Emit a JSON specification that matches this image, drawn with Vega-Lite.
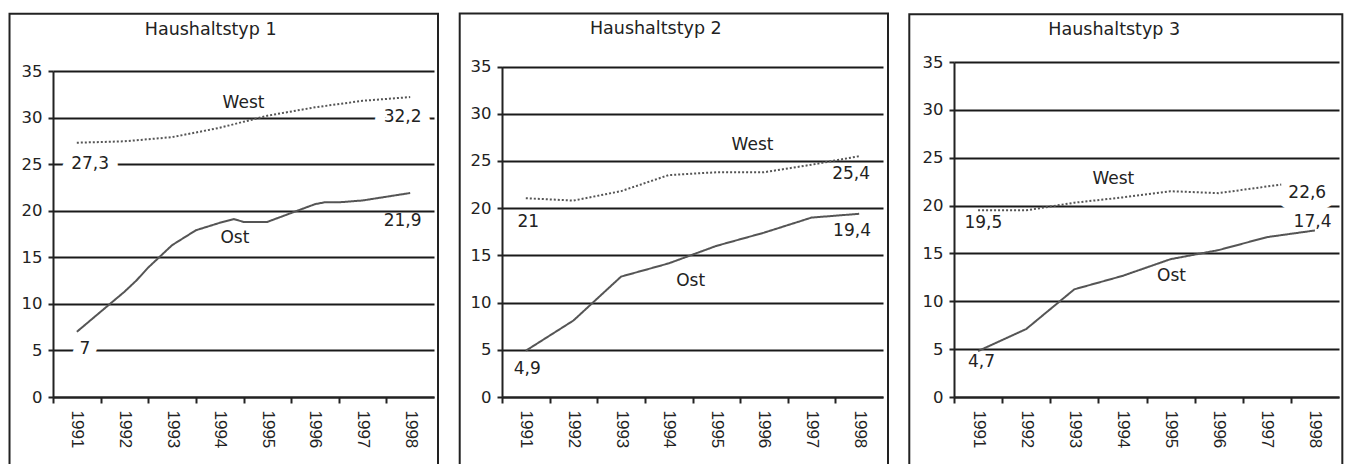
{
  "$schema": "https://vega.github.io/schema/vega-lite/v6.json",
  "padding": {"left": 8, "top": 12, "right": 0, "bottom": 0},
  "background": "white",
  "spacing": 18,
  "bounds": "full",
  "config": {
    "view": {"stroke": null},
    "font": "DejaVu Sans",
    "axis": {
      "domainColor": "#222", "domainWidth": 2,
      "tickColor": "#222", "tickWidth": 2,
      "labelFont": "DejaVu Sans", "labelFontSize": 16.5, "labelColor": "#222",
      "title": null, "gridColor": "#1a1a1a", "gridWidth": 2,
      "labelFlush": false, "labelOverlap": false
    },
    "axisX": {"labelFont": "Liberation Sans", "labelFontSize": 17},
    "text": {"font": "DejaVu Sans"}
  },
  "datasets": {
    "lines": [
      {"panel": 1, "series": "Ost", "year": 1991, "value": 7.0},
      {"panel": 1, "series": "Ost", "year": 1992, "value": 11.3},
      {"panel": 1, "series": "Ost", "year": 1992.25, "value": 12.5},
      {"panel": 1, "series": "Ost", "year": 1992.5, "value": 13.9},
      {"panel": 1, "series": "Ost", "year": 1993, "value": 16.3},
      {"panel": 1, "series": "Ost", "year": 1993.5, "value": 17.9},
      {"panel": 1, "series": "Ost", "year": 1994, "value": 18.7},
      {"panel": 1, "series": "Ost", "year": 1994.3, "value": 19.1},
      {"panel": 1, "series": "Ost", "year": 1994.5, "value": 18.8},
      {"panel": 1, "series": "Ost", "year": 1995, "value": 18.8},
      {"panel": 1, "series": "Ost", "year": 1996, "value": 20.7},
      {"panel": 1, "series": "Ost", "year": 1996.2, "value": 20.9},
      {"panel": 1, "series": "Ost", "year": 1996.5, "value": 20.9},
      {"panel": 1, "series": "Ost", "year": 1997, "value": 21.1},
      {"panel": 1, "series": "Ost", "year": 1998, "value": 21.9},
      {"panel": 1, "series": "West", "year": 1991, "value": 27.3},
      {"panel": 1, "series": "West", "year": 1992, "value": 27.45},
      {"panel": 1, "series": "West", "year": 1993, "value": 27.9},
      {"panel": 1, "series": "West", "year": 1994, "value": 28.9},
      {"panel": 1, "series": "West", "year": 1995, "value": 30.2},
      {"panel": 1, "series": "West", "year": 1996, "value": 31.1},
      {"panel": 1, "series": "West", "year": 1997, "value": 31.8},
      {"panel": 1, "series": "West", "year": 1998, "value": 32.2},
      {"panel": 2, "series": "Ost", "year": 1991, "value": 4.9},
      {"panel": 2, "series": "Ost", "year": 1992, "value": 8.1},
      {"panel": 2, "series": "Ost", "year": 1993, "value": 12.75},
      {"panel": 2, "series": "Ost", "year": 1994, "value": 14.15},
      {"panel": 2, "series": "Ost", "year": 1995, "value": 16.0},
      {"panel": 2, "series": "Ost", "year": 1996, "value": 17.4},
      {"panel": 2, "series": "Ost", "year": 1997, "value": 19.0},
      {"panel": 2, "series": "Ost", "year": 1998, "value": 19.4},
      {"panel": 2, "series": "West", "year": 1991, "value": 21.05},
      {"panel": 2, "series": "West", "year": 1992, "value": 20.8},
      {"panel": 2, "series": "West", "year": 1993, "value": 21.8},
      {"panel": 2, "series": "West", "year": 1994, "value": 23.5},
      {"panel": 2, "series": "West", "year": 1995, "value": 23.8},
      {"panel": 2, "series": "West", "year": 1996, "value": 23.8},
      {"panel": 2, "series": "West", "year": 1997, "value": 24.6},
      {"panel": 2, "series": "West", "year": 1998, "value": 25.5},
      {"panel": 3, "series": "Ost", "year": 1991, "value": 4.8},
      {"panel": 3, "series": "Ost", "year": 1992, "value": 7.1},
      {"panel": 3, "series": "Ost", "year": 1993, "value": 11.25},
      {"panel": 3, "series": "Ost", "year": 1994, "value": 12.65},
      {"panel": 3, "series": "Ost", "year": 1995, "value": 14.4},
      {"panel": 3, "series": "Ost", "year": 1996, "value": 15.35},
      {"panel": 3, "series": "Ost", "year": 1997, "value": 16.7},
      {"panel": 3, "series": "Ost", "year": 1998, "value": 17.4},
      {"panel": 3, "series": "West", "year": 1991, "value": 19.5},
      {"panel": 3, "series": "West", "year": 1992, "value": 19.5},
      {"panel": 3, "series": "West", "year": 1993, "value": 20.3},
      {"panel": 3, "series": "West", "year": 1994, "value": 20.85},
      {"panel": 3, "series": "West", "year": 1995, "value": 21.5},
      {"panel": 3, "series": "West", "year": 1996, "value": 21.3},
      {"panel": 3, "series": "West", "year": 1997.3, "value": 22.2}
    ],
    "labels": [
      {"panel": 1, "x": 1993.81, "y": 39.43, "text": "Haushaltstyp 1"},
      {"panel": 1, "x": 1994.5, "y": 31.6, "text": "West"},
      {"panel": 1, "x": 1991.28, "y": 25.0, "text": "27,3"},
      {"panel": 1, "x": 1997.84, "y": 30.1, "text": "32,2"},
      {"panel": 1, "x": 1994.32, "y": 17.05, "text": "Ost"},
      {"panel": 1, "x": 1997.84, "y": 18.85, "text": "21,9"},
      {"panel": 1, "x": 1991.17, "y": 5.1, "text": "7"},
      {"panel": 2, "x": 1993.73, "y": 38.92, "text": "Haushaltstyp 2"},
      {"panel": 2, "x": 1995.76, "y": 26.73, "text": "West"},
      {"panel": 2, "x": 1997.83, "y": 23.62, "text": "25,4"},
      {"panel": 2, "x": 1991.05, "y": 18.49, "text": "21"},
      {"panel": 2, "x": 1997.85, "y": 17.6, "text": "19,4"},
      {"panel": 2, "x": 1994.46, "y": 12.3, "text": "Ost"},
      {"panel": 2, "x": 1991.03, "y": 2.94, "text": "4,9"},
      {"panel": 3, "x": 1993.83, "y": 38.34, "text": "Haushaltstyp 3"},
      {"panel": 3, "x": 1993.81, "y": 22.75, "text": "West"},
      {"panel": 3, "x": 1997.84, "y": 21.34, "text": "22,6"},
      {"panel": 3, "x": 1991.11, "y": 18.21, "text": "19,5"},
      {"panel": 3, "x": 1997.95, "y": 18.32, "text": "17,4"},
      {"panel": 3, "x": 1995.02, "y": 12.64, "text": "Ost"},
      {"panel": 3, "x": 1991.07, "y": 3.66, "text": "4,7"}
    ]
  },
  "hconcat": [
    {
      "width": 381, "height": 335,
      "layer": [
        {
          "data": {"values": [{}]},
          "mark": {"type": "rect", "fillOpacity": 0, "stroke": "#222", "strokeWidth": 2},
          "encoding": {
            "x": {"datum": 1989.587, "type": "quantitative"},
            "x2": {"datum": 1998.584},
            "y": {"datum": 41.15, "type": "quantitative"},
            "y2": {"datum": -10}
          }
        },
        {
          "data": {"name": "labels"},
          "transform": [{"filter": "datum.panel == 1 && indexof(['27,3','32,2','7'], datum.text) >= 0"}],
          "mark": {"type": "text", "fontSize": 17, "color": "white", "stroke": "white", "strokeWidth": 20, "strokeJoin": "round", "baseline": "middle", "align": "center"},
          "encoding": {
            "x": {"field": "x", "type": "quantitative"},
            "y": {"field": "y", "type": "quantitative"},
            "text": {"field": "text"}
          }
        },
        {
          "data": {"name": "lines"},
          "transform": [{"filter": "datum.panel == 1"}],
          "mark": {"type": "line", "color": "#555", "strokeWidth": 2},
          "encoding": {
            "x": {"field": "year", "type": "quantitative",
              "scale": {"domain": [1990.5, 1998.5], "nice": false, "zero": false},
              "axis": {"values": [1991, 1992, 1993, 1994, 1995, 1996, 1997, 1998], "format": "d", "labelAngle": 90, "tickOffset": -23.81, "labelOffset": 23.81, "tickSize": 6, "labelPadding": 7, "grid": false}},
            "y": {"field": "value", "type": "quantitative",
              "scale": {"domain": [0, 35], "range": [335, 9], "nice": false, "zero": true},
              "axis": {"values": [0, 5, 10, 15, 20, 25, 30, 35], "grid": true, "tickSize": 5, "labelPadding": 6}},
            "strokeDash": {"field": "series", "type": "nominal", "scale": {"domain": ["Ost", "West"], "range": [[1, 0], [2, 2]]}, "legend": null}
          }
        },
        {
          "data": {"name": "labels"},
          "transform": [{"filter": "datum.panel == 1"}],
          "mark": {"type": "text", "color": "#222", "baseline": "middle", "align": "center"},
          "encoding": {
            "x": {"field": "x", "type": "quantitative"},
            "y": {"field": "y", "type": "quantitative"},
            "text": {"field": "text"},
            "size": {"condition": {"test": "indexof(datum.text, 'Haushalt') == 0", "value": 17.5}, "value": 17}
          }
        }
      ]
    },
    {
      "width": 381, "height": 335,
      "layer": [
        {
          "data": {"values": [{}]},
          "mark": {"type": "rect", "fillOpacity": 0, "stroke": "#222", "strokeWidth": 2},
          "encoding": {
            "x": {"datum": 1989.612, "type": "quantitative"},
            "x2": {"datum": 1998.605},
            "y": {"datum": 40.6, "type": "quantitative"},
            "y2": {"datum": -10}
          }
        },
        {
          "data": {"name": "lines"},
          "transform": [{"filter": "datum.panel == 2"}],
          "mark": {"type": "line", "color": "#555", "strokeWidth": 2},
          "encoding": {
            "x": {"field": "year", "type": "quantitative",
              "scale": {"domain": [1990.5, 1998.5], "nice": false, "zero": false},
              "axis": {"values": [1991, 1992, 1993, 1994, 1995, 1996, 1997, 1998], "format": "d", "labelAngle": 90, "tickOffset": -23.81, "labelOffset": 23.81, "tickSize": 6, "labelPadding": 7, "grid": false}},
            "y": {"field": "value", "type": "quantitative",
              "scale": {"domain": [0, 35], "range": [335, 4.5], "nice": false, "zero": true},
              "axis": {"values": [0, 5, 10, 15, 20, 25, 30, 35], "grid": true, "tickSize": 5, "labelPadding": 6}},
            "strokeDash": {"field": "series", "type": "nominal", "scale": {"domain": ["Ost", "West"], "range": [[1, 0], [2, 2]]}, "legend": null}
          }
        },
        {
          "data": {"name": "labels"},
          "transform": [{"filter": "datum.panel == 2"}],
          "mark": {"type": "text", "color": "#222", "baseline": "middle", "align": "center"},
          "encoding": {
            "x": {"field": "x", "type": "quantitative"},
            "y": {"field": "y", "type": "quantitative"},
            "text": {"field": "text"},
            "size": {"condition": {"test": "indexof(datum.text, 'Haushalt') == 0", "value": 17.5}, "value": 17}
          }
        }
      ]
    },
    {
      "width": 385, "height": 335,
      "layer": [
        {
          "data": {"values": [{}]},
          "mark": {"type": "rect", "fillOpacity": 0, "stroke": "#222", "strokeWidth": 2},
          "encoding": {
            "x": {"datum": 1989.571, "type": "quantitative"},
            "x2": {"datum": 1998.569},
            "y": {"datum": 40.0, "type": "quantitative"},
            "y2": {"datum": -10}
          }
        },
        {
          "data": {"name": "labels"},
          "transform": [{"filter": "datum.panel == 3 && datum.text == '22,6'"}],
          "mark": {"type": "text", "fontSize": 17, "color": "white", "stroke": "white", "strokeWidth": 22, "strokeJoin": "round", "baseline": "middle", "align": "center"},
          "encoding": {
            "x": {"field": "x", "type": "quantitative"},
            "y": {"field": "y", "type": "quantitative"},
            "text": {"field": "text"}
          }
        },
        {
          "data": {"name": "lines"},
          "transform": [{"filter": "datum.panel == 3"}],
          "mark": {"type": "line", "color": "#555", "strokeWidth": 2},
          "encoding": {
            "x": {"field": "year", "type": "quantitative",
              "scale": {"domain": [1990.5, 1998.5], "nice": false, "zero": false},
              "axis": {"values": [1991, 1992, 1993, 1994, 1995, 1996, 1997, 1998], "format": "d", "labelAngle": 90, "tickOffset": -24.06, "labelOffset": 24.06, "tickSize": 6, "labelPadding": 7, "grid": false}},
            "y": {"field": "value", "type": "quantitative",
              "scale": {"domain": [0, 35], "range": [335, 0], "nice": false, "zero": true},
              "axis": {"values": [0, 5, 10, 15, 20, 25, 30, 35], "grid": true, "tickSize": 5, "labelPadding": 6}},
            "strokeDash": {"field": "series", "type": "nominal", "scale": {"domain": ["Ost", "West"], "range": [[1, 0], [2, 2]]}, "legend": null}
          }
        },
        {
          "data": {"name": "labels"},
          "transform": [{"filter": "datum.panel == 3"}],
          "mark": {"type": "text", "color": "#222", "baseline": "middle", "align": "center"},
          "encoding": {
            "x": {"field": "x", "type": "quantitative"},
            "y": {"field": "y", "type": "quantitative"},
            "text": {"field": "text"},
            "size": {"condition": {"test": "indexof(datum.text, 'Haushalt') == 0", "value": 17.5}, "value": 17}
          }
        }
      ]
    }
  ]
}
